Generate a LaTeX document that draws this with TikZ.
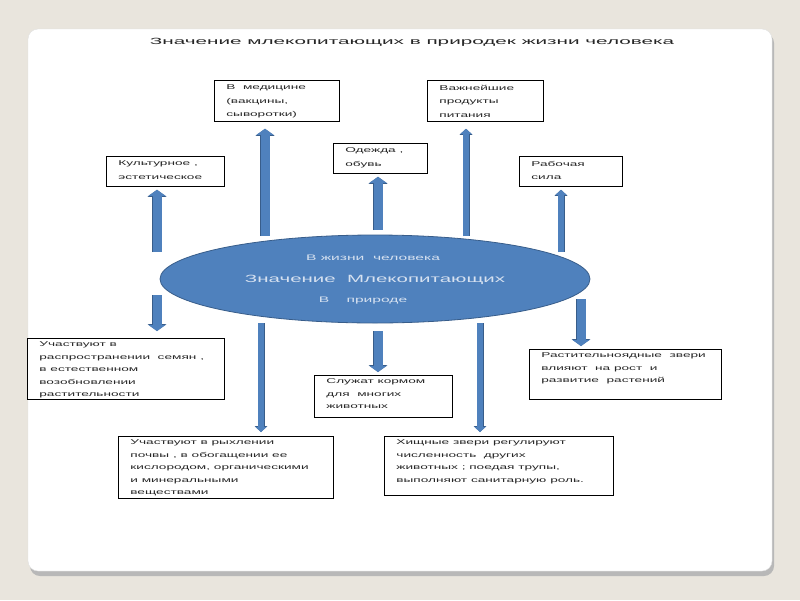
\documentclass[tikz,border=0pt]{standalone}
\usepackage{fontspec}
\setmainfont{Liberation Sans}
\newfontfamily\slidefont[FakeStretch=1.95]{Liberation Sans}
\newfontfamily\titlefont[FakeStretch=2.3]{Liberation Sans}
\usetikzlibrary{arrows.meta, shapes.geometric, positioning}
\definecolor{ellfill}{HTML}{4F81BD}
\definecolor{elledge}{HTML}{385D8A}
\definecolor{slidebg}{HTML}{E9E5DD}
\definecolor{inktext}{HTML}{262626}
\definecolor{elltext}{HTML}{D6E1F0}

\begin{document}
\begin{tikzpicture}[x=1pt, y=-1pt,
  every node/.style={inner sep=0pt},
  bigarrow/.style={draw=ellfill, line width=9pt,
    -{Triangle[length=6pt, width=17pt, line width=0pt]},
    preaction={draw=elledge, line width=10.5pt,
      -{Triangle[length=7pt, width=19pt, line width=0pt]}}},
  thinarrow/.style={draw=ellfill, line width=5.5pt,
    -{Triangle[length=5pt, width=11pt, line width=0pt]},
    preaction={draw=elledge, line width=7pt,
      -{Triangle[length=6pt, width=13pt, line width=0pt]}}}
]

% Slide background
\useasboundingbox (0,0) rectangle (800,600);
\fill[slidebg] (0,0) rectangle (800,600);
\fill[black!28, rounded corners=10pt] (30,33) rectangle (774,576);
\fill[white, draw=black!12, rounded corners=10pt] (28,29) rectangle (772,571);

% Box style
\tikzset{
  infobox/.style={
    rectangle, draw=black, fill=white, line width=0.8pt,
    anchor=north west, inner xsep=12pt, inner ysep=3.5pt,
    text=inktext, font=\slidefont\fontsize{7}{12.5}\selectfont
  },
  topbox/.style={
    infobox, inner ysep=4.5pt, font=\slidefont\fontsize{7}{13.5}\selectfont
  },
  elllabel/.style={
    text=elltext, font=\slidefont\fontsize{8}{10}\selectfont
  }
}

% Title
\node[text=inktext, font=\titlefont\fontsize{9}{11}\selectfont] (title) at (412,42)
  {Значение млекопитающих в природек жизни человека};

% Centre
\node[ellipse, fill=ellfill, draw=elledge, line width=0.8pt,
  minimum width=430pt, minimum height=88pt] (ell) at (375,279) {};
\node[elllabel] (life) at (373,258) {В жизни~ человека};
\node[elllabel, font=\slidefont\fontsize{10.5}{13}\selectfont] (value) at (375,280)
  {Значение~ Млекопитающих};
\node[elllabel] (nature) at (363,301) {В~~~ природе};

% ---- Upper boxes ----
\node[topbox] (kult) at (106,156)
  {\parbox[c][21pt][t]{94pt}{\raggedright Культурное ,\\ эстетическое}};
\node[topbox] (medic) at (214,80)
  {\parbox[c][32pt][t]{101pt}{\raggedright В~ медицине\\ (вакцины,\\ сыворотки)}};
\node[topbox] (odezh) at (333,143)
  {\parbox[c][21pt][t]{70pt}{\raggedright Одежда ,\\ обувь}};
\node[topbox] (prod) at (427,80)
  {\parbox[c][32pt][t]{92pt}{\raggedright Важнейшие\\ продукты\\ питания}};
\node[topbox] (rabsila) at (519,156)
  {\parbox[c][21pt][t]{79pt}{\raggedright Рабочая\\ сила}};

% ---- Lower boxes ----
\node[infobox] (semena) at (27,338)
  {\parbox[c][54pt][t]{173pt}{\raggedright Участвуют в\\ распространении~ семян ,\\ в естественном\\ возобновлении\\ растительности}};
\node[infobox] (korm) at (314,375)
  {\parbox[c][35pt][t]{114pt}{\raggedright Служат кормом\\ для~ многих\\ животных}};
\node[infobox] (rost) at (529,349)
  {\parbox[c][43pt][t]{168pt}{\raggedright Растительноядные~ звери\\ влияют~ на рост~ и\\ развитие~ растений}};
\node[infobox] (pochva) at (118,436)
  {\parbox[c][55pt][t]{191pt}{\raggedright Участвуют в рыхлении\\ почвы , в обогащении ее\\ кислородом, органическими\\ и минеральными\\ веществами}};
\node[infobox] (hishn) at (384,436)
  {\parbox[c][52pt][t]{205pt}{\raggedright Хищные звери регулируют\\ численность~ других\\ животных ; поедая трупы,\\ выполняют санитарную роль.}};

% ---- Arrows ----
\coordinate (u1) at (157,252);
\coordinate (u2) at (265,236);
\coordinate (u3) at (378,230);
\coordinate (u4) at (466,236);
\coordinate (u5) at (561,252);
\coordinate (d1) at (157,295);
\coordinate (d2) at (261,323);
\coordinate (d3) at (378,331);
\coordinate (d4) at (480,323);
\coordinate (d5) at (581,299);

\draw[bigarrow, shorten >=3pt] (u1) -- (u1 |- kult.south);
\draw[bigarrow, shorten >=7pt] (u2) -- (u2 |- medic.south);
\draw[bigarrow, shorten >=3pt] (u3) -- (u3 |- odezh.south);
\draw[thinarrow, shorten >=7pt] (u4) -- (u4 |- prod.south);
\draw[thinarrow, shorten >=3pt] (u5) -- (u5 |- rabsila.south);

\draw[bigarrow, shorten >=7pt] (d1) -- (d1 |- semena.north);
\draw[thinarrow, shorten >=4pt] (d2) -- (d2 |- pochva.north);
\draw[bigarrow, shorten >=3pt] (d3) -- (d3 |- korm.north);
\draw[thinarrow, shorten >=4pt] (d4) -- (d4 |- hishn.north);
\draw[bigarrow, shorten >=3pt] (d5) -- (d5 |- rost.north);

\end{tikzpicture}
\end{document}
